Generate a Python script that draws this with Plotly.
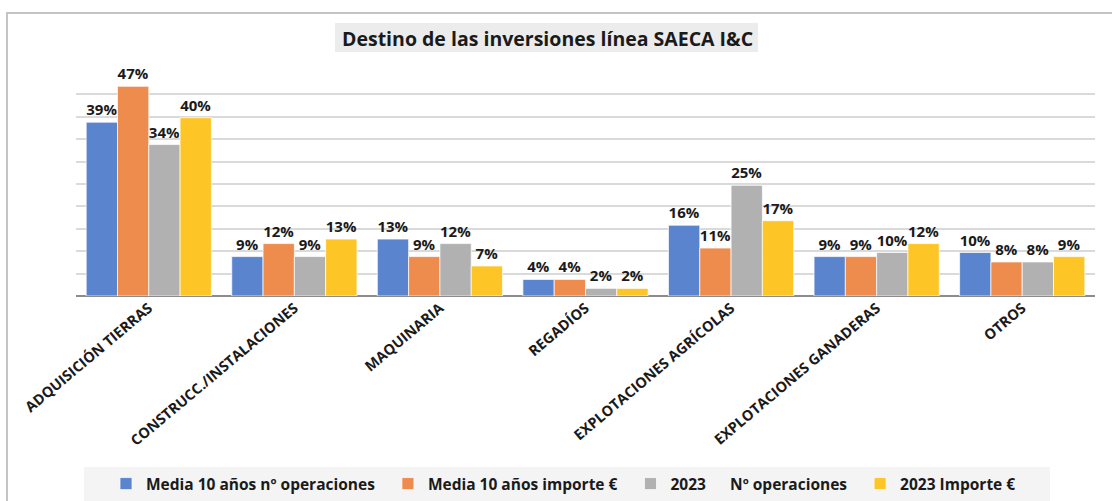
import plotly.graph_objects as go

categories = ["ADQUISICIÓN TIERRAS", "CONSTRUCC./INSTALACIONES", "MAQUINARIA", "REGADÍOS",
              "EXPLOTACIONES AGRÍCOLAS", "EXPLOTACIONES GANADERAS", "OTROS"]
series_names = ["Media 10 años nº operaciones\u00a0\u00a0", "Media 10 años importe €\u00a0\u00a0",
                "2023\u00a0\u00a0\u00a0\u00a0\u00a0\u00a0Nº operaciones\u00a0\u00a0", "2023 Importe €"]
media_ops = [0.388, 0.088, 0.127, 0.037, 0.158, 0.088, 0.097]
media_importe = [0.468, 0.117, 0.088, 0.037, 0.107, 0.088, 0.076]
ops_2023 = [0.338, 0.088, 0.117, 0.017, 0.247, 0.097, 0.076]
importe_2023 = [0.398, 0.127, 0.067, 0.017, 0.168, 0.117, 0.088]
colors = ["#5b84cf", "#ee8c4e", "#b1b1b1", "#fdc526"]

W, H = 1112, 501
L, R, T, B = 76, 17, 72, 205
pw, ph = W - L - R, H - T - B


def px(x):
    return (x - L) / pw


def py(y):
    return (H - B - y) / ph


fig = go.Figure()
for name, vals, col in zip(series_names, [media_ops, media_importe, ops_2023, importe_2023], colors):
    fig.add_trace(go.Bar(
        x=categories, y=vals, name=name,
        marker=dict(color=col, line=dict(color="rgba(255,255,255,0.7)", width=1)),
        texttemplate="%{y:.0%}", textposition="outside", cliponaxis=False,
        textfont=dict(family="Open Sans", size=15, color="#1a1a1a", weight="bold"),
    ))

fig.update_layout(
    width=W, height=H,
    margin=dict(l=L, r=R, t=T, b=B, autoexpand=False),
    paper_bgcolor="white", plot_bgcolor="white",
    barmode="group", bargap=0.14, bargroupgap=0.0,
    font=dict(family="Open Sans", color="#1a1a1a"),
    showlegend=True,
    legend=dict(orientation="h", x=px(106), xanchor="left", y=py(484), yanchor="middle",
                bgcolor="rgba(0,0,0,0)",
                font=dict(family="Open Sans", size=15.5, color="#1a1a1a", weight="bold"),
                itemwidth=30, traceorder="normal"),
    xaxis=dict(tickangle=-40, showgrid=False, showline=False, ticks="", automargin=False,
               tickfont=dict(family="Open Sans", size=14.5, weight="bold", color="#1a1a1a")),
    yaxis=dict(range=[0, 0.5], dtick=0.05, showticklabels=False, gridcolor="#dadada", gridwidth=2,
               zeroline=True, zerolinecolor="#8c8c8c", zerolinewidth=2, showline=False, ticks="",
               automargin=False),
    shapes=[
        dict(type="rect", xref="paper", yref="paper", x0=px(7), x1=px(1125), y0=py(520), y1=py(13),
             line=dict(color="#c4c4c4", width=2), fillcolor="rgba(0,0,0,0)", layer="below"),
        dict(type="rect", xref="paper", yref="paper", x0=px(335), x1=px(758), y0=py(52), y1=py(23),
             line=dict(width=0), fillcolor="#ececec", layer="below"),
        dict(type="rect", xref="paper", yref="paper", x0=px(84), x1=px(1050), y0=py(502), y1=py(467),
             line=dict(width=0), fillcolor="#f4f4f4", layer="below"),
    ],
    annotations=[
        dict(text="<b>Destino de las inversiones línea SAECA I&C</b>", xref="paper", yref="paper",
             x=px(547), y=py(38), xanchor="center", yanchor="middle", showarrow=False,
             font=dict(family="Open Sans", size=19.5, color="#1a1a1a")),
    ],
)

fig.write_html("out.html", config={"displayModeBar": False},
               post_script="document.body.style.margin='0';document.body.style.overflow='hidden';")
